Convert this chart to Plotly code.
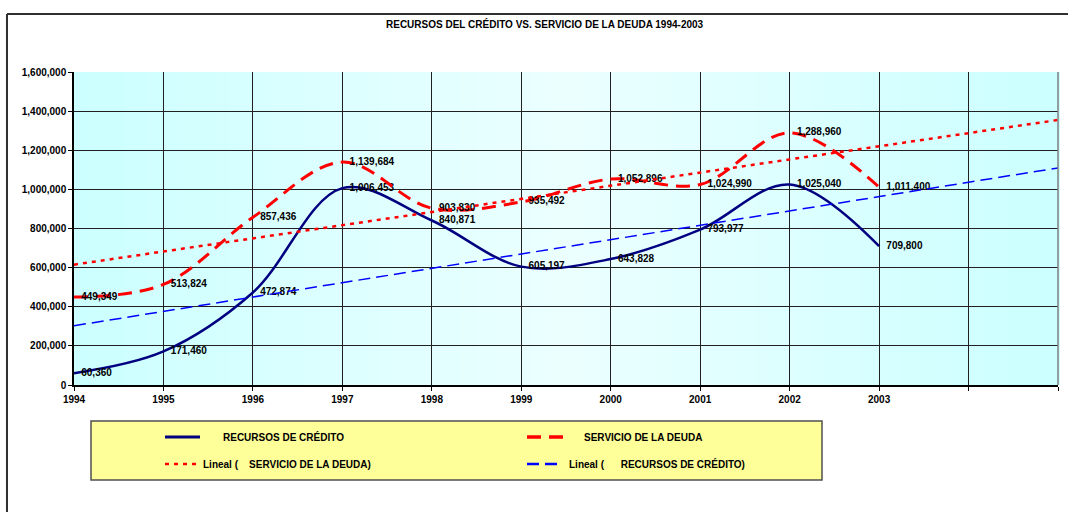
import numpy as np
import plotly.graph_objects as go

# Annual figures
years = [1994, 1995, 1996, 1997, 1998, 1999, 2000, 2001, 2002, 2003]
recursos = [60360, 171460, 472874, 1006453, 840871, 605197, 643828, 793977, 1025040, 709800]
servicio = [449349, 513824, 857436, 1139684, 903830, 935492, 1052896, 1024990, 1288960, 1011400]

# Trend lines run two periods past the last year
trend_years = [1994, 1995, 1996, 1997, 1998, 1999, 2000, 2001, 2002, 2003, 2004, 2005]
year_labels = ["1994", "1995", "1996", "1997", "1998", "1999", "2000", "2001", "2002", "2003", "", ""]
y_ticks = [0, 200000, 400000, 600000, 800000, 1000000, 1200000, 1400000, 1600000]

TITLE = "RECURSOS DEL CRÉDITO VS. SERVICIO DE LA DEUDA 1994-2003"
NAME_REC = "RECURSOS DE CRÉDITO"
NAME_SER = "SERVICIO DE LA DEUDA"


def linear_trend(values):
    """Least-squares line over periods 1..n, projected over all trend years."""
    idx = np.arange(1, len(values) + 1)
    slope, intercept = np.polyfit(idx, np.asarray(values, dtype=float), 1)
    ext = np.arange(1, len(trend_years) + 1)
    return slope * ext + intercept


FONT = "Arial, Liberation Sans, sans-serif"
FS = 10
label_font = dict(family=FONT, size=FS, color="#000000", weight="bold")

NAVY = "#000080"
RED = "#ff0000"
BLUE = "#0000ff"

fig = go.Figure()

# invisible markers only push the value labels away from the points
ghost = dict(size=10, opacity=0)

fig.add_trace(go.Scatter(
    x=years, y=recursos, name=NAME_REC, mode="lines+markers+text",
    line=dict(color=NAVY, width=2.5, shape="spline", smoothing=1), marker=ghost,
    text=[f"{v:,}" for v in recursos], textposition="middle right",
    textfont=label_font, cliponaxis=False, showlegend=False,
))
fig.add_trace(go.Scatter(
    x=years, y=servicio, name=NAME_SER, mode="lines+markers+text",
    line=dict(color=RED, width=3, dash="14px,8px", shape="spline", smoothing=1), marker=ghost,
    text=[f"{v:,}" for v in servicio], textposition="middle right",
    textfont=label_font, cliponaxis=False, showlegend=False,
))
fig.add_trace(go.Scatter(
    x=trend_years, y=linear_trend(servicio), mode="lines",
    line=dict(color=RED, width=2.5, dash="4px,5px"), showlegend=False,
    hoverinfo="skip",
))
fig.add_trace(go.Scatter(
    x=trend_years, y=linear_trend(recursos), mode="lines",
    line=dict(color=BLUE, width=1.5, dash="12px,6px"), showlegend=False,
    hoverinfo="skip",
))

# Horizontal background gradient: cyan at the edges, paler toward the middle
shapes = []
n_bands = 120
edge = np.array([204, 255, 255])
mid = np.array([236, 255, 255])
for i in range(n_bands):
    t = (i + 0.5) / n_bands
    w = 1 - abs(t - 0.5) / 0.5
    c = edge + (mid - edge) * w
    shapes.append(dict(
        type="rect", xref="paper", yref="paper", layer="below",
        x0=i / n_bands, x1=(i + 1) / n_bands + 0.002, y0=0, y1=1,
        fillcolor=f"rgb({int(c[0])},{int(c[1])},{int(c[2])})",
        line=dict(width=0),
    ))

# Right edge of the plot area
shapes.append(dict(type="line", xref="paper", yref="paper", x0=1, x1=1, y0=0, y1=1,
                   line=dict(color="#808080", width=1.5)))

# Chart frame
shapes.append(dict(type="line", xref="paper", yref="paper", x0=-0.0681, x1=1.05,
                   y0=1.185, y1=1.185, line=dict(color="#303030", width=2)))
shapes.append(dict(type="line", xref="paper", yref="paper", x0=-0.0681, x1=-0.0681,
                   y0=1.185, y1=-0.45, line=dict(color="#303030", width=2)))


def px_x(px):
    return (px - 74) / 984


def px_y(py):
    return (385 - py) / 313


# Legend box
shapes.append(dict(type="rect", xref="paper", yref="paper",
                   x0=px_x(91), x1=px_x(822), y0=px_y(480), y1=px_y(421),
                   fillcolor="#ffff99", line=dict(color="#505050", width=1.5)))

row1, row2 = px_y(437), px_y(464)
legend_samples = [
    (165, 200, row1, NAVY, 3, "solid"),
    (527, 565, row1, RED, 3.5, "14px,8px"),
    (165, 200, row2, RED, 2.5, "4px,5px"),
    (527, 563, row2, BLUE, 2.5, "12px,6px"),
]
for x0, x1, yy, col, wd, dsh in legend_samples:
    shapes.append(dict(type="line", xref="paper", yref="paper",
                       x0=px_x(x0), x1=px_x(x1), y0=yy, y1=yy,
                       line=dict(color=col, width=wd, dash=dsh)))

nb = "\u00a0"
legend_texts = [
    (221, row1, NAME_REC),
    (582, row1, NAME_SER),
    (201, row2, f"Lineal ({nb * 4}{NAME_SER})"),
    (567, row2, f"Lineal ({nb * 6}{NAME_REC})"),
]
annotations = []
for x, yy, txt in legend_texts:
    annotations.append(dict(
        xref="paper", yref="paper", x=px_x(x), y=yy, text=txt,
        xanchor="left", yanchor="middle", showarrow=False,
        font=dict(family=FONT, size=FS, color="#000000", weight="bold"),
    ))

annotations.append(dict(
    xref="paper", yref="paper", x=px_x(545), y=px_y(24), text=TITLE,
    xanchor="center", yanchor="middle", showarrow=False,
    font=dict(family=FONT, size=FS, color="#000000", weight="bold"),
))

fig.update_layout(
    width=1068, height=512,
    margin=dict(l=74, r=10, t=72, b=127, pad=0),
    paper_bgcolor="#ffffff",
    plot_bgcolor="#ccffff",
    shapes=shapes,
    annotations=annotations,
    showlegend=False,
    xaxis=dict(
        range=[1994, 2005], tickmode="array", tickvals=trend_years, ticktext=year_labels,
        showgrid=True, gridcolor="#202020", gridwidth=1, zeroline=False,
        showline=True, linecolor="#000000", linewidth=1.5,
        ticks="outside", ticklen=4, tickcolor="#000000",
        tickfont=dict(family=FONT, size=FS, color="#000000", weight="bold"),
    ),
    yaxis=dict(
        range=[0, 1600000], tickmode="array", tickvals=y_ticks,
        ticktext=[f"{v:,}" for v in y_ticks],
        showgrid=True, gridcolor="#202020", gridwidth=1, zeroline=False,
        showline=True, linecolor="#000000", linewidth=1.5,
        ticks="outside", ticklen=4, tickcolor="#000000",
        tickfont=dict(family=FONT, size=FS, color="#000000", weight="bold"),
    ),
)

fig.write_html("out.html")
